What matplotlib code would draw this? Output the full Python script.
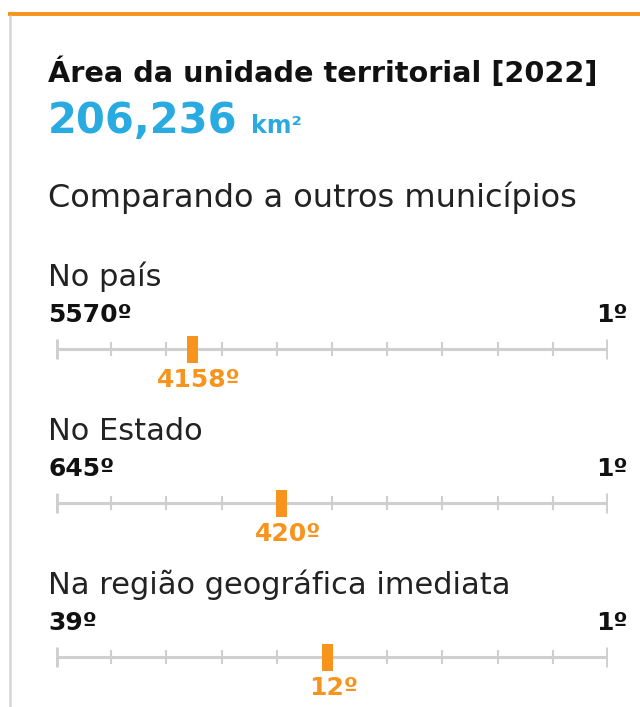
"""
Card with territorial area and rank rulers.
"""
import matplotlib.pyplot as plt

title = "Área da unidade territorial [2022]"
area_value = "206,236"
area_unit = "km²"
subtitle = "Comparando a outros municípios"

scopes = ["No país", "No Estado", "Na região geográfica imediata"]
totals = [5570, 645, 39]
ranks = [4158, 420, 12]
# marker position along the ruler (0 = last place, 10 = first)
marker_pos = [2.48, 4.09, 4.92]

ORANGE = "#f7941d"
BLUE = "#29abe2"
GRAY = "#cfcfcf"

W, H = 640, 707
fig = plt.figure(figsize=(W / 100, H / 100), dpi=100)

bg = fig.add_axes([0, 0, 1, 1])
bg.set_xlim(0, W)
bg.set_ylim(H, 0)
bg.axis("off")

# card frame: orange top bar and grey left border
bg.plot([8, W], [13.5, 13.5], color=ORANGE, lw=2.8, solid_capstyle="butt")
bg.plot([9.5, 9.5], [15, H], color="#d6d6d6", lw=1.8, solid_capstyle="butt")

bg.text(48, 82, title, fontsize=20.7, fontweight="bold", color="#111111")
bg.text(48, 133, area_value, fontsize=30, fontweight="bold", color=BLUE)
bg.text(251, 133, area_unit, fontsize=17, fontweight="bold", color=BLUE)
bg.text(48, 207, subtitle, fontsize=23, color="#222222")

step = 154
for i, (scope, total, rank, pos) in enumerate(zip(scopes, totals, ranks, marker_pos)):
    y0 = i * step
    bg.text(48, 286 + y0, scope, fontsize=22, color="#222222")
    bg.text(48, 322 + y0, f"{total}º", fontsize=18, fontweight="bold", color="#111111")
    bg.text(628, 322 + y0, "1º", fontsize=18, fontweight="bold", color="#111111", ha="right")

    line_y = 349 + y0
    ax = fig.add_axes([56 / W, 1 - (line_y + 20) / H, 552 / W, 40 / H])
    ax.set_xlim(0, 10)
    ax.set_ylim(-1, 1)
    ax.axis("off")
    ax.plot([0, 10], [0, 0], color=GRAY, lw=2.2, zorder=1)
    ax.vlines(range(1, 10), -0.35, 0.35, color=GRAY, lw=1.5, zorder=1)
    ax.vlines([0, 10], -0.5, 0.5, color=GRAY, lw=3.5, zorder=1)
    ax.bar(pos, 1.35, width=0.2, bottom=-0.675, color=ORANGE, zorder=2)
    # rank label sits slightly right of the marker, as in the card
    ax.text(pos + 0.11, -1.9, f"{rank}º", fontsize=18, fontweight="bold", color=ORANGE,
            ha="center", va="baseline")

fig.savefig("out.png", dpi=100)
